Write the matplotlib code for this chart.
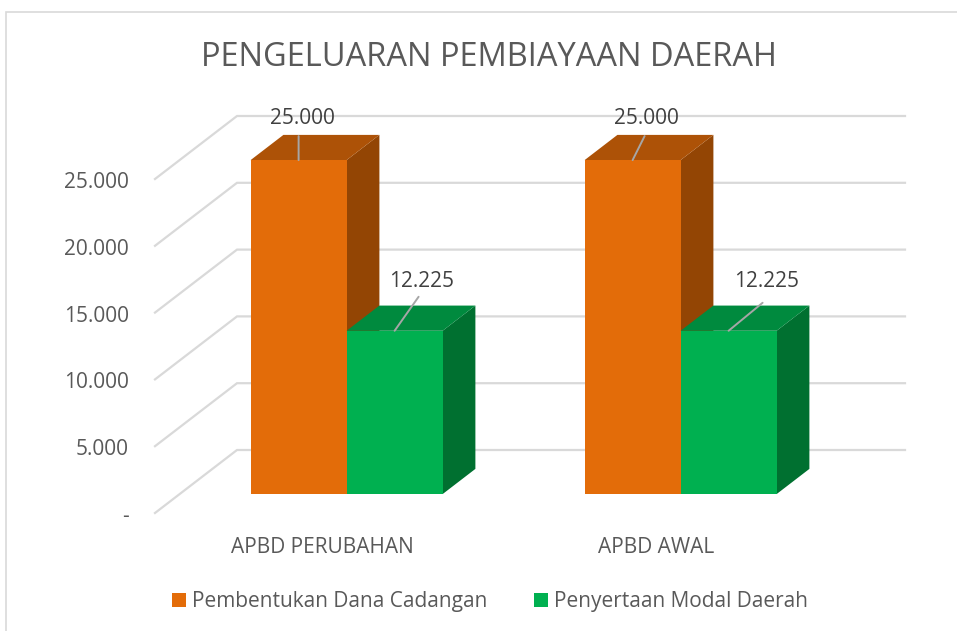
import numpy as np
import matplotlib
matplotlib.use("Agg")
import matplotlib.pyplot as plt
from matplotlib.patches import Patch, Polygon, Rectangle
from matplotlib.transforms import ScaledTranslation

categories = ["APBD PERUBAHAN", "APBD AWAL"]
series_names = ["Pembentukan Dana Cadangan", "Penyertaan Modal Daerah"]
dana_cadangan = [25000, 25000]
modal_daerah = [12225, 12225]
value_ticks = [0, 5000, 10000, 15000, 20000, 25000]
value_tick_labels = ["-", "5.000", "10.000", "15.000", "20.000", "25.000"]
value_labels = ["25.000", "12.225", "25.000", "12.225"]

W, H = 957, 631
GREY = "#595959"
GRID = "#D9D9D9"
plt.rcParams["font.family"] = ["Open Sans", "DejaVu Sans"]

# front plane of the chart in pixels
left, right, bottom, top = 155, 823, 513, 179
units_x = 2 / (right - left)
units_y = 25000 / (bottom - top)

# oblique depth of the floor, in data units
depth_x = 82 * units_x
depth_y = 63 * units_y
d_front, d_back = 0.30, 0.70
bar_w = 0.2874


def proj(x, v, d):
    return x + d * depth_x, v + d * depth_y


fig = plt.figure(figsize=(W / 100, H / 100), dpi=100)
ax = fig.add_axes([left / W, 1 - bottom / H, (right - left) / W, (bottom - top) / H])
ax.set_xlim(-0.5, 1.5)
ax.set_ylim(0, 25000)
ax.patch.set_visible(False)
for s in ax.spines.values():
    s.set_visible(False)

# chart border
fig.add_artist(Rectangle((6 / W, -0.02), (W + 20) / W, 1 - 12 / H + 0.02, transform=fig.transFigure,
                         fill=False, ec=GRID, lw=1.2))

# grid on the side wall and on the back wall
for v in value_ticks:
    xa, ya = proj(-0.5, v, 0)
    xb, yb = proj(-0.5, v, 1)
    xc, yc = proj(1.5, v, 1)
    ax.plot([xa, xb, xc], [ya, yb, yc], color=GRID, lw=1.6, clip_on=False, zorder=1,
            solid_joinstyle="miter")

# bars, one series after the other
series = [
    (dana_cadangan, -bar_w / 2, "#E36C09", "#AD5207", "#934504"),
    (modal_daerah, bar_w / 2, "#00B050", "#008A3E", "#007030"),
]
label_offsets = [(4, 42), (27, 49), (14, 42), (38, 49)]
leader_ends = [(0, 24), (24, 34), (12, 24), (34, 28)]
anchors = []
for i in range(len(categories)):
    for vals, shift, col, col_top, col_side in series:
        v = vals[i]
        x0 = i + shift - bar_w / 2
        x1 = x0 + bar_w
        fx0, fb = proj(x0, 0, d_front)
        fx1, ft = proj(x1, v, d_front)
        bx0, bb = proj(x0, 0, d_back)
        bx1, bt = proj(x1, v, d_back)
        ax.add_patch(Polygon([(fx1, fb), (bx1, bb), (bx1, bt), (fx1, ft)], fc=col_side, ec="none",
                             clip_on=False, zorder=3))
        ax.add_patch(Polygon([(fx0, ft), (bx0, bt), (bx1, bt), (fx1, ft)], fc=col_top, ec="none",
                             clip_on=False, zorder=3))
        ax.bar(fx0, v, bar_w, bottom=fb, align="edge", color=col, clip_on=False, zorder=3)
        anchors.append(((fx0 + fx1) / 2, ft))

for (xa, ya), txt, off, end in zip(anchors, value_labels, label_offsets, leader_ends):
    ax.annotate("", xy=(xa, ya), xytext=end, textcoords="offset pixels", annotation_clip=False,
                arrowprops=dict(arrowstyle="-", color="#A6A6A6", lw=1.4, shrinkA=0, shrinkB=0), zorder=4)
    ax.annotate(txt, xy=(xa, ya), xytext=off, textcoords="offset pixels", ha="center", va="center",
                fontsize=15, color="#404040", annotation_clip=False, zorder=5)

ax.set_xticks(range(len(categories)))
ax.set_xticklabels(categories, fontsize=15, color=GREY)
ax.set_yticks(value_ticks)
ax.set_yticklabels(value_tick_labels, fontsize=15, color=GREY)
ax.tick_params(axis="x", length=0, pad=17)
ax.tick_params(axis="y", length=0, pad=19)
for lbl in ax.get_yticklabels():
    lbl.set_transform(lbl.get_transform() + ScaledTranslation(0, -1 / 100, fig.dpi_scale_trans))

fig.text(489 / W, 1 - 58 / H, "PENGELUARAN PEMBIAYAAN DAERAH", ha="center", va="center",
         fontsize=23.5, color=GREY)

handles = [Patch(fc=series[0][2], label=series_names[0]), Patch(fc=series[1][2], label=series_names[1])]
fig.legend(handles=handles, loc="center", bbox_to_anchor=(490 / W, 1 - 602 / H), ncol=2, frameon=False,
           fontsize=15, labelcolor=GREY, handlelength=0.67, handleheight=0.67, handletextpad=0.3,
           columnspacing=2.25)

fig.savefig("out.png", dpi=100)
